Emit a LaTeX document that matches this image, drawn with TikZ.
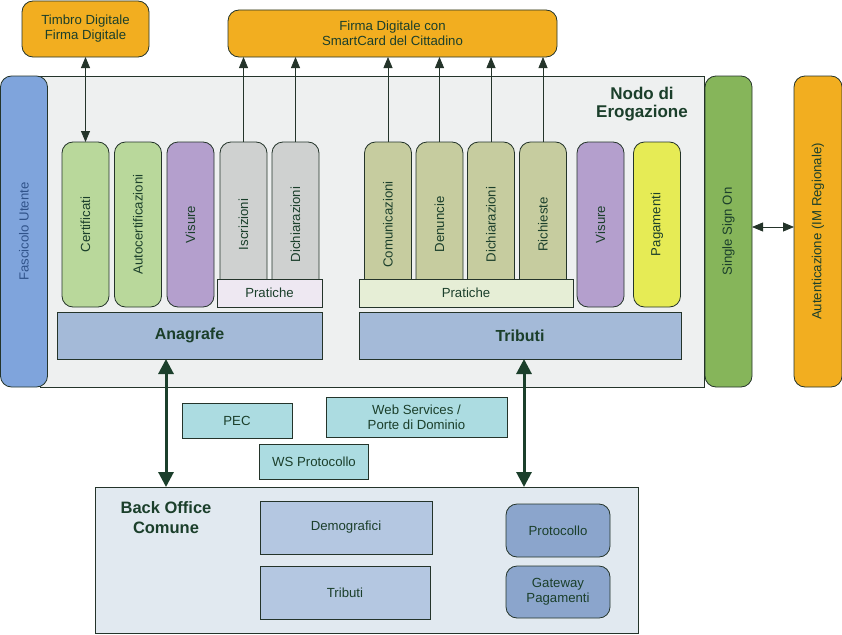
\documentclass[tikz,border=0pt]{standalone}
\usepackage{fontspec}
\setmainfont{Liberation Sans}
\usetikzlibrary{arrows.meta}
\definecolor{orangeC}{HTML}{F2AE20}
\definecolor{fascC}{HTML}{7FA4DC}
\definecolor{mainbg}{HTML}{EEF0F0}
\definecolor{ssoC}{HTML}{86B55A}
\definecolor{certC}{HTML}{B9D89B}
\definecolor{visC}{HTML}{B49FCD}
\definecolor{grayC}{HTML}{CFD1D0}
\definecolor{pratL}{HTML}{EEE8F2}
\definecolor{anaC}{HTML}{A4BAD8}
\definecolor{oliveC}{HTML}{C6CC9F}
\definecolor{pratR}{HTML}{E6EED6}
\definecolor{pagC}{HTML}{E6EB55}
\definecolor{cyanC}{HTML}{ACDCE1}
\definecolor{boC}{HTML}{E1E9F0}
\definecolor{demoC}{HTML}{B4C7E1}
\definecolor{protC}{HTML}{8BA5CC}
\definecolor{txtC}{HTML}{1B3F2B}
\definecolor{lineC}{HTML}{24342A}
\definecolor{fasctxt}{HTML}{30538A}
\begin{document}
\begin{tikzpicture}[x=1pt,y=-1pt,
  every node/.style={inner sep=0pt, outer sep=0pt, text=txtC, font=\fontsize{13.2}{15}\selectfont, align=center},
  bx/.style={draw=lineC, line width=0.8pt},
  rbx/.style={bx, rounded corners=11pt},
  colbox/.style={rbx, minimum width=47pt, minimum height=165pt},
  coltxt/.style={rotate=90},
  thin arrow/.style={draw=lineC, line width=0.8pt, -{Triangle[length=11pt,width=9pt]}},
  thin darrow/.style={draw=lineC, line width=0.8pt, {Triangle[length=11pt,width=9pt]}-{Triangle[length=11pt,width=9pt]}},
  thick darrow/.style={draw=txtC, line width=3pt, {Triangle[length=15pt,width=15pt]}-{Triangle[length=15pt,width=15pt]}},
  bigtxt/.style={font=\fontsize{16.5}{19}\selectfont\bfseries}
]
\useasboundingbox (0,0) rectangle (842,634);

% top boxes
\node[rbx, fill=orangeC, minimum width=127pt, minimum height=56pt] (timbro) at (85.5,29) {Timbro Digitale\\Firma Digitale};
\node[rbx, fill=orangeC, minimum width=329pt, minimum height=47pt] (firma) at (392.5,33.5) {Firma Digitale con\\SmartCard del Cittadino};

% main box
\node[bx, fill=mainbg, minimum width=664pt, minimum height=311pt] (main) at (372,231.5) {};
\node[font=\fontsize{17}{18.5}\selectfont\bfseries] (nodo) at (642,104) {Nodo di\\Erogazione};

% side boxes
\node[rbx, fill=fascC, minimum width=47pt, minimum height=311pt] (fasc) at (24,231.5) {};
\node[coltxt, text=fasctxt] (fascT) at (fasc.center) {Fascicolo Utente};
\node[rbx, fill=ssoC, minimum width=47pt, minimum height=311pt] (sso) at (728.5,231.5) {};
\node[coltxt] (ssoT) at (sso.center) {Single Sign On};
\node[rbx, fill=orangeC, minimum width=48pt, minimum height=311pt] (auth) at (818,231.5) {};
\node[coltxt] (authT) at (auth.center) {Autenticazione (IM Regionale)};

% left columns
\node[colbox, fill=certC] (cert) at (85.5,224.5) {};
\node[coltxt] (certT) at (cert.center) {Certificati};
\node[colbox, fill=certC] (auto) at (138,224.5) {};
\node[coltxt] (autoT) at (auto.center) {Autocertificazioni};
\node[colbox, fill=visC] (vis1) at (190.5,224.5) {};
\node[coltxt] (vis1T) at (vis1.center) {Visure};
\node[colbox, fill=grayC] (iscr) at (243.5,224.5) {};
\node[coltxt] (iscrT) at (iscr.center) {Iscrizioni};
\node[colbox, fill=grayC] (dich1) at (295.5,224.5) {};
\node[coltxt] (dich1T) at (dich1.center) {Dichiarazioni};
\node[bx, fill=pratL, minimum width=105pt, minimum height=28pt] (prat1) at (269.5,293) {Pratiche};
\node[bx, fill=anaC, minimum width=265pt, minimum height=47pt, font=\fontsize{16}{18}\selectfont\bfseries] (ana) at (189.5,335.5) {Anagrafe};

% right columns
\node[colbox, fill=oliveC] (comu) at (388,224.5) {};
\node[coltxt] (comuT) at (comu.center) {Comunicazioni};
\node[colbox, fill=oliveC] (denu) at (439.5,224.5) {};
\node[coltxt] (denuT) at (denu.center) {Denuncie};
\node[colbox, fill=oliveC] (dich2) at (491,224.5) {};
\node[coltxt] (dich2T) at (dich2.center) {Dichiarazioni};
\node[colbox, fill=oliveC] (rich) at (543,224.5) {};
\node[coltxt] (richT) at (rich.center) {Richieste};
\node[colbox, fill=visC] (vis2) at (600.5,224.5) {};
\node[coltxt] (vis2T) at (vis2.center) {Visure};
\node[colbox, fill=pagC] (pag) at (657,224.5) {};
\node[coltxt] (pagT) at (pag.center) {Pagamenti};
\node[bx, fill=pratR, minimum width=214pt, minimum height=28pt] (prat2) at (466,293) {Pratiche};
\node[bx, fill=anaC, minimum width=322pt, minimum height=47pt, font=\fontsize{16}{18}\selectfont\bfseries] (trib) at (520,335.5) {Tributi};

% middle connectors boxes
\node[bx, fill=cyanC, minimum width=110pt, minimum height=35pt] (pec) at (237,420.5) {PEC};
\node[bx, fill=cyanC, minimum width=181pt, minimum height=40pt] (ws) at (416.5,417) {Web Services /\\Porte di Dominio};
\node[bx, fill=cyanC, minimum width=109pt, minimum height=35pt] (wsp) at (314,461.5) {WS Protocollo};

% back office
\node[bx, fill=boC, minimum width=543pt, minimum height=146pt] (bo) at (366.5,560) {};
\node[font=\fontsize{16.5}{20}\selectfont\bfseries] (boT) at (166,518) {Back Office\\Comune};
\node[bx, fill=demoC, minimum width=172pt, minimum height=53pt] (demo) at (346,527.5) {Demografici};
\node[bx, fill=demoC, minimum width=170pt, minimum height=53pt] (trib2) at (345,592.5) {Tributi};
\node[rbx, fill=protC, minimum width=104pt, minimum height=53pt] (prot) at (558,530.5) {Protocollo};
\node[rbx, fill=protC, minimum width=104pt, minimum height=52pt] (gate) at (558,592) {Gateway\\Pagamenti};

% connectors
\draw[thin darrow] (timbro.south) -- (cert.north);
\draw[thin arrow] (iscr.north) -- (iscr.north |- firma.south);
\draw[thin arrow] (dich1.north) -- (dich1.north |- firma.south);
\draw[thin arrow] (comu.north) -- (comu.north |- firma.south);
\draw[thin arrow] (denu.north) -- (denu.north |- firma.south);
\draw[thin arrow] (dich2.north) -- (dich2.north |- firma.south);
\draw[thin arrow] (rich.north) -- (rich.north |- firma.south);
\draw[thin darrow] (sso.east |- 0,227) -- (auth.west |- 0,227);
\draw[thick darrow] (166,359) -- (166,487);
\draw[thick darrow] (524,359) -- (524,487);
\end{tikzpicture}
\end{document}
